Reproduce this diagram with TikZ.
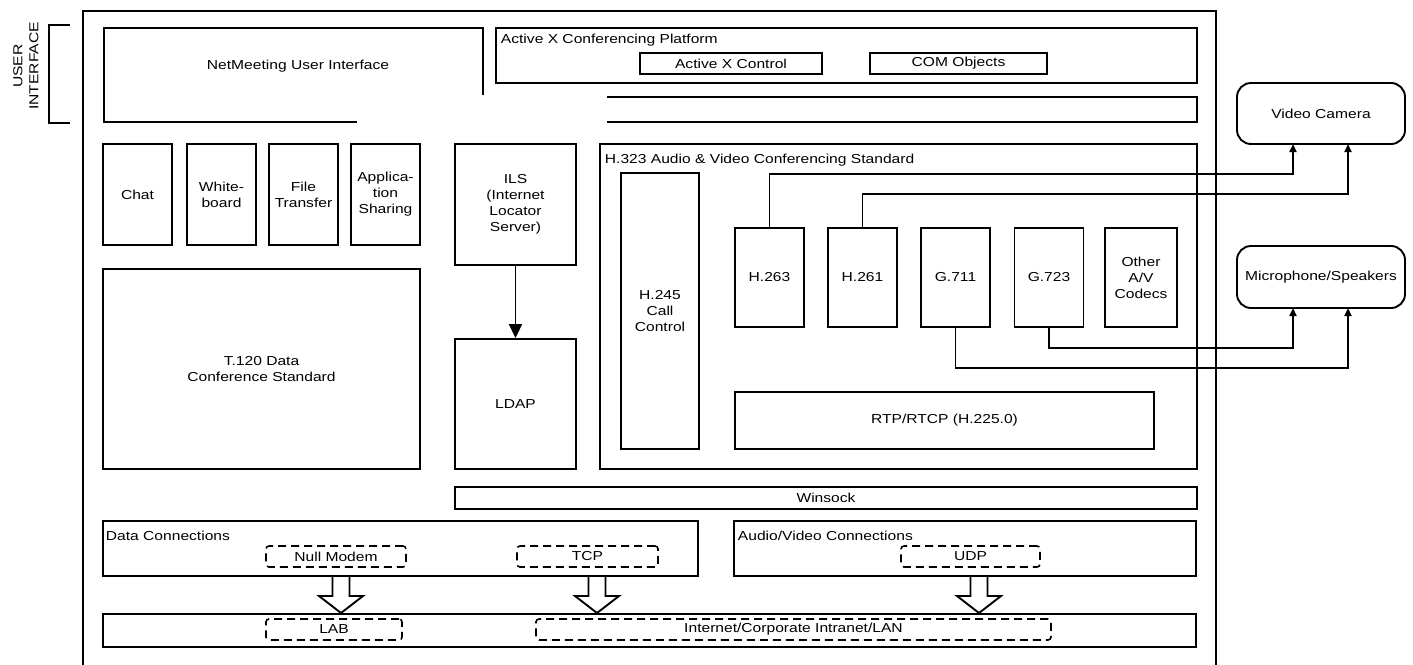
\documentclass[tikz,border=0pt]{standalone}
\usepackage{fontspec}
\setmainfont{Liberation Sans}[FakeStretch=1.2]
\usetikzlibrary{arrows.meta,calc}
\begin{document}
\begin{tikzpicture}[x=1pt,y=-1pt,line width=1.9pt,
  txt/.style={font=\fontsize{13}{16}\selectfont, inner sep=2pt, align=center},
  box/.style={txt, draw, minimum width=#1},
  lbl/.style={font=\fontsize{13}{16}\selectfont, inner sep=0pt, anchor=base west},
  dbox/.style={txt, draw, dash pattern=on 8pt off 5pt, rounded corners=3pt, line width=1.6pt, minimum width=#1, minimum height=21},
  dev/.style={txt, draw, rounded corners=14pt, minimum width=168},
  sarrow/.style={-{Triangle[width=7pt,length=8pt]}},
  bigarrow/.style={-{Triangle[width=13pt,length=14pt]}},
  harrow/.style={draw, fill=white, line width=1.9pt}]
\useasboundingbox (0,0) rectangle (1413,664);
\fill[white] (0,0) rectangle (1413,664);

% outer frame and user interface bracket
\draw (83,700) -- (83,11) -- (1216,11) -- (1216,700);
\draw (70,25) -- (49,25) -- (49,123) -- (70,123);
\node[txt, rotate=90] (ui) at (26,66) {USER\\INTERFACE};

% NetMeeting UI
\draw (483,95) -- (483,28) -- (104,28) -- (104,122) -- (357,122);
\node[txt] (nm) at (298,66) {NetMeeting User Interface};

% ActiveX platform
\node[box=701, minimum height=55] (ax) at (846.5,55.5) {};
\node[lbl] (axl) at (500,43) {Active X Conferencing Platform};
\node[box=182, minimum height=21] (axc) at (731,63.5) {Active X Control};
\node[box=177, minimum height=21] (com) at (958.5,63.5) {COM Objects};
\draw (607,97) -- (1197,97) -- (1197,122) -- (607,122);

% T.120 apps
\node[box=69, minimum height=101] (chat) at (137.5,194.5) {Chat};
\node[box=69, minimum height=101] (wb) at (221.5,194.5) {White-\\board};
\node[box=69, minimum height=101] (ft) at (303.5,194.5) {File\\Transfer};
\node[box=69, minimum height=101] (as) at (385.5,194.5) {Applica-\\tion\\Sharing};
\node[box=317, minimum height=200] (t120) at (261.5,369) {T.120 Data\\Conference Standard};

% ILS / LDAP
\node[box=121, minimum height=121] (ils) at (515.5,204.5) {ILS\\(Internet\\Locator\\Server)};
\node[box=121, minimum height=130] (ldap) at (515.5,404) {LDAP};
\draw[bigarrow] (ils.south) -- (ldap.north);

% H.323
\node[box=597, minimum height=325] (h323) at (898.5,306.5) {};
\node[lbl] (h323l) at (604,163) {H.323 Audio \& Video Conferencing Standard};
\node[box=78, minimum height=276] (h245) at (660,311) {H.245\\Call\\Control};
\node[box=69, minimum height=99] (h263) at (769.5,277.5) {H.263};
\node[box=69, minimum height=99] (h261) at (862.5,277.5) {H.261};
\node[box=69, minimum height=99] (g711) at (955.5,277.5) {G.711};
\node[box=69, minimum height=99] (g723) at (1049,277.5) {G.723};
\node[box=72, minimum height=99] (oth) at (1141,277.5) {Other\\A/V\\Codecs};
\node[box=419, minimum height=57] (rtp) at (944.5,420.5) {RTP/RTCP (H.225.0)};

% devices
\node[dev, minimum height=61] (cam) at (1321,113.5) {Video Camera};
\node[dev, minimum height=62] (mic) at (1321,277) {Microphone/Speakers};
\coordinate (camA) at (1293,144);
\coordinate (camB) at (1348,144);
\coordinate (micA) at (1293,308);
\coordinate (micB) at (1348,308);
\draw[sarrow] (h263.north) |- (1293,174) -- (camA);
\draw[sarrow] (h261.north) |- (1348,194) -- (camB);
\draw[sarrow] (g723.south) |- (1293,348) -- (micA);
\draw[sarrow] (g711.south) |- (1348,368) -- (micB);

% Winsock and connections
\node[box=742, minimum height=22] (ws) at (826,498) {Winsock};
\node[box=595, minimum height=55] (dc) at (400.5,548.5) {};
\node[lbl] (dcl) at (105,540) {Data Connections};
\node[box=462, minimum height=55] (avc) at (965,548.5) {};
\node[lbl] (avl) at (737,540) {Audio/Video Connections};
\node[dbox=140] (nullm) at (336,556.5) {Null Modem};
\node[dbox=141] (tcp) at (587.5,556.5) {TCP};
\node[dbox=139] (udp) at (970.5,556.5) {UDP};

% network
\node[box=1093, minimum height=33] (net) at (649.5,630.5) {};
\node[dbox=136] (lab) at (334,629.5) {LAB};
\node[dbox=515] (inet) at (793.5,629.5) {Internet/Corporate Intranet/LAN};

% hollow arrows
\coordinate (ha1) at (341,576);
\coordinate (ha2) at (597,576);
\coordinate (ha3) at (979,576);
\foreach \h in {ha1,ha2,ha3}{
  \path[harrow] (\h) ++(-8.5,0) -- ++(0,20) -- ++(-13.5,0) -- ++(22,17) -- ++(22,-17) -- ++(-13.5,0) -- ++(0,-20) -- cycle;
}
\end{tikzpicture}
\end{document}
